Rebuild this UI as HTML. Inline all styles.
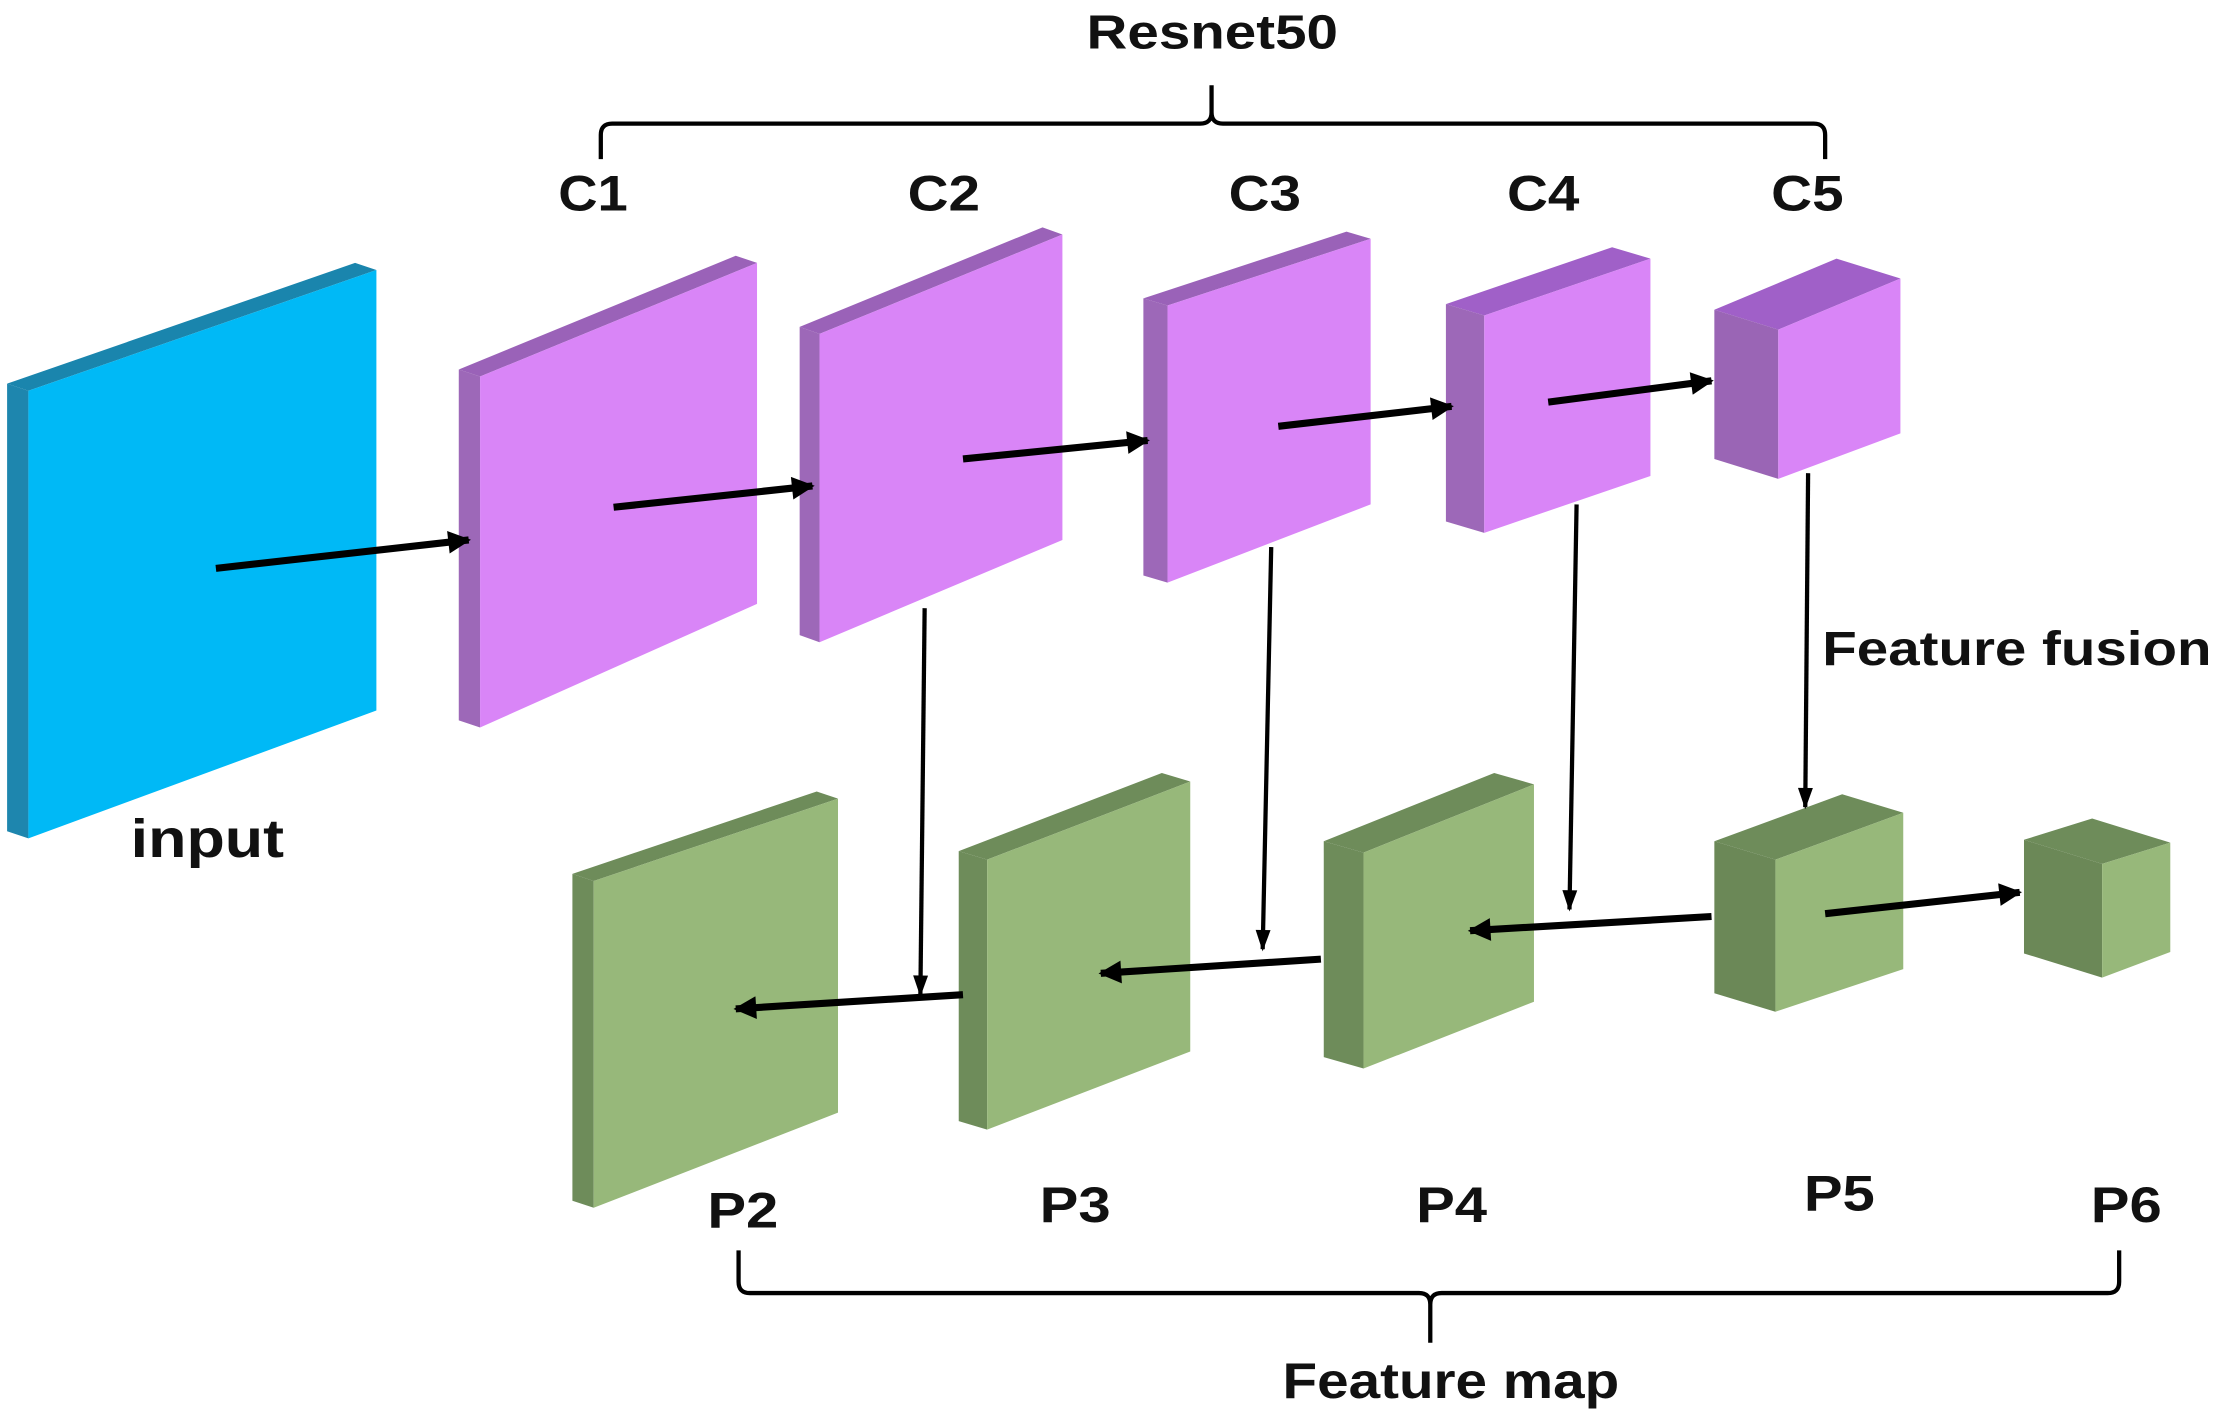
<!DOCTYPE html>
<html><head><meta charset="utf-8"><style>
html,body{margin:0;padding:0;background:#fff;}
svg{display:block;}
text{font-family:"Liberation Sans",Arial,sans-serif;font-weight:bold;fill:#111;}
</style></head><body>
<svg width="2220" height="1411" viewBox="0 0 1563 993" preserveAspectRatio="none">
<defs>
<marker id="ah" viewBox="0 0 10 10" refX="9" refY="5" markerWidth="4.4" markerHeight="3.2" orient="auto" markerUnits="strokeWidth"><path d="M0,0 L10,5 L0,10 z" fill="#000"/></marker>
<marker id="ah2" viewBox="0 0 10 10" refX="9" refY="5" markerWidth="6" markerHeight="5" orient="auto" markerUnits="strokeWidth"><path d="M0,1.5 L10,5 L0,8.5 z" fill="#000"/></marker>
</defs>
<!-- input -->
<polygon points="5,270 250,185 265,190 20,275" fill="#1a85ad"/>
<polygon points="5,270 20,275 20,590 5,585" fill="#1e86ae"/>
<polygon points="20,275 265,190 265,500 20,590" fill="#00b9f6"/>
<!-- C1 -->
<polygon points="323,260 518,180 533,185 338,265" fill="#9a62b8"/>
<polygon points="323,260 338,265 338,512 323,507" fill="#9d68b8"/>
<polygon points="338,265 533,185 533,425 338,512" fill="#d985f7"/>
<!-- C2 -->
<polygon points="563,230 734,160 748,165 577,235" fill="#9a62b8"/>
<polygon points="563,230 577,235 577,452 563,447" fill="#9d68b8"/>
<polygon points="577,235 748,165 748,380 577,452" fill="#d985f7"/>
<!-- C3 -->
<polygon points="805,210 948,163 965,168 822,215" fill="#9a62b8"/>
<polygon points="805,210 822,215 822,410 805,405" fill="#9d68b8"/>
<polygon points="822,215 965,168 965,355 822,410" fill="#d985f7"/>
<!-- C4 -->
<polygon points="1018,214 1135,174 1162,182 1045,222" fill="#a060c8"/>
<polygon points="1018,214 1045,222 1045,375 1018,367" fill="#9d68b8"/>
<polygon points="1045,222 1162,182 1162,335 1045,375" fill="#d985f7"/>
<!-- C5 -->
<polygon points="1207,218 1293,182 1338,196 1252,232" fill="#a060c8"/>
<polygon points="1207,218 1252,232 1252,337 1207,323" fill="#9a65b5"/>
<polygon points="1252,232 1338,196 1338,305 1252,337" fill="#d985f7"/>
<!-- P2 -->
<polygon points="403,615 575,557 590,562 418,620" fill="#6e8c5a"/>
<polygon points="403,615 418,620 418,850 403,845" fill="#6e8c5a"/>
<polygon points="418,620 590,562 590,783 418,850" fill="#97b87a"/>
<!-- P3 -->
<polygon points="675,599 818,544 838,550 695,605" fill="#6e8c5a"/>
<polygon points="675,599 695,605 695,795 675,789" fill="#6e8c5a"/>
<polygon points="695,605 838,550 838,740 695,795" fill="#97b87a"/>
<!-- P4 -->
<polygon points="932,592 1052,544 1080,552 960,600" fill="#6e8c5a"/>
<polygon points="932,592 960,600 960,752 932,744" fill="#6e8c5a"/>
<polygon points="960,600 1080,552 1080,705 960,752" fill="#97b87a"/>
<!-- P5 -->
<polygon points="1207,592 1297,559 1340,572 1250,605" fill="#6e8c5a"/>
<polygon points="1207,592 1250,605 1250,712 1207,699" fill="#6b8857"/>
<polygon points="1250,605 1340,572 1340,682 1250,712" fill="#97b87a"/>
<!-- P6 -->
<polygon points="1425,591 1473,576 1528,593 1480,608" fill="#6e8c5a"/>
<polygon points="1425,591 1480,608 1480,688 1425,671" fill="#6b8857"/>
<polygon points="1480,608 1528,593 1528,670 1480,688" fill="#97b87a"/>

<g stroke="#000" fill="none">
<line x1="152" y1="400" x2="330" y2="380" stroke-width="5" marker-end="url(#ah)"/>
<line x1="432" y1="357" x2="572" y2="342" stroke-width="5" marker-end="url(#ah)"/>
<line x1="678" y1="323" x2="808" y2="310" stroke-width="5" marker-end="url(#ah)"/>
<line x1="900" y1="300" x2="1022" y2="286" stroke-width="5" marker-end="url(#ah)"/>
<line x1="1090" y1="283" x2="1205" y2="268" stroke-width="5" marker-end="url(#ah)"/>
<line x1="1205" y1="645" x2="1035" y2="655" stroke-width="5" marker-end="url(#ah)"/>
<line x1="930" y1="675" x2="775" y2="685" stroke-width="5" marker-end="url(#ah)"/>
<line x1="678" y1="700" x2="518" y2="710" stroke-width="5" marker-end="url(#ah)"/>
<line x1="1285" y1="643" x2="1422" y2="628" stroke-width="5" marker-end="url(#ah)"/>
<line x1="651" y1="428" x2="648" y2="700" stroke-width="3" marker-end="url(#ah2)"/>
<line x1="895" y1="385" x2="889" y2="668" stroke-width="3" marker-end="url(#ah2)"/>
<line x1="1110" y1="355" x2="1105" y2="640" stroke-width="3" marker-end="url(#ah2)"/>
<line x1="1273" y1="333" x2="1271" y2="568" stroke-width="3" marker-end="url(#ah2)"/>
<path d="M423,112 L423,95 Q423,87 431,87 L845,87 Q853,87 853,79 L853,60 M853,79 Q853,87 861,87 L1277,87 Q1285,87 1285,95 L1285,112" stroke-width="3"/>
<path d="M520,880 L520,902 Q520,910 528,910 L999,910 Q1007,910 1007,918 L1007,945 M1007,918 Q1007,910 1015,910 L1484,910 Q1492,910 1492,902 L1492,880" stroke-width="3"/>
</g>

<g lengthAdjust="spacingAndGlyphs">
<text x="765" y="34" font-size="34" textLength="177" lengthAdjust="spacingAndGlyphs">Resnet50</text>
<text x="393" y="148" font-size="35" textLength="49" lengthAdjust="spacingAndGlyphs">C1</text>
<text x="639" y="148" font-size="35" textLength="51" lengthAdjust="spacingAndGlyphs">C2</text>
<text x="865" y="148" font-size="35" textLength="51" lengthAdjust="spacingAndGlyphs">C3</text>
<text x="1061" y="148" font-size="35" textLength="51" lengthAdjust="spacingAndGlyphs">C4</text>
<text x="1247" y="148" font-size="35" textLength="51" lengthAdjust="spacingAndGlyphs">C5</text>
<text x="92" y="603" font-size="38" textLength="108" lengthAdjust="spacingAndGlyphs">input</text>
<text x="1283" y="468" font-size="34" textLength="274" lengthAdjust="spacingAndGlyphs">Feature fusion</text>
<text x="498" y="864" font-size="35" textLength="50" lengthAdjust="spacingAndGlyphs">P2</text>
<text x="732" y="860" font-size="35" textLength="50" lengthAdjust="spacingAndGlyphs">P3</text>
<text x="997" y="860" font-size="35" textLength="50" lengthAdjust="spacingAndGlyphs">P4</text>
<text x="1270" y="852" font-size="35" textLength="50" lengthAdjust="spacingAndGlyphs">P5</text>
<text x="1472" y="860" font-size="35" textLength="50" lengthAdjust="spacingAndGlyphs">P6</text>
<text x="903" y="984" font-size="35" textLength="237" lengthAdjust="spacingAndGlyphs">Feature map</text>
</g>
</svg>
</body></html>
